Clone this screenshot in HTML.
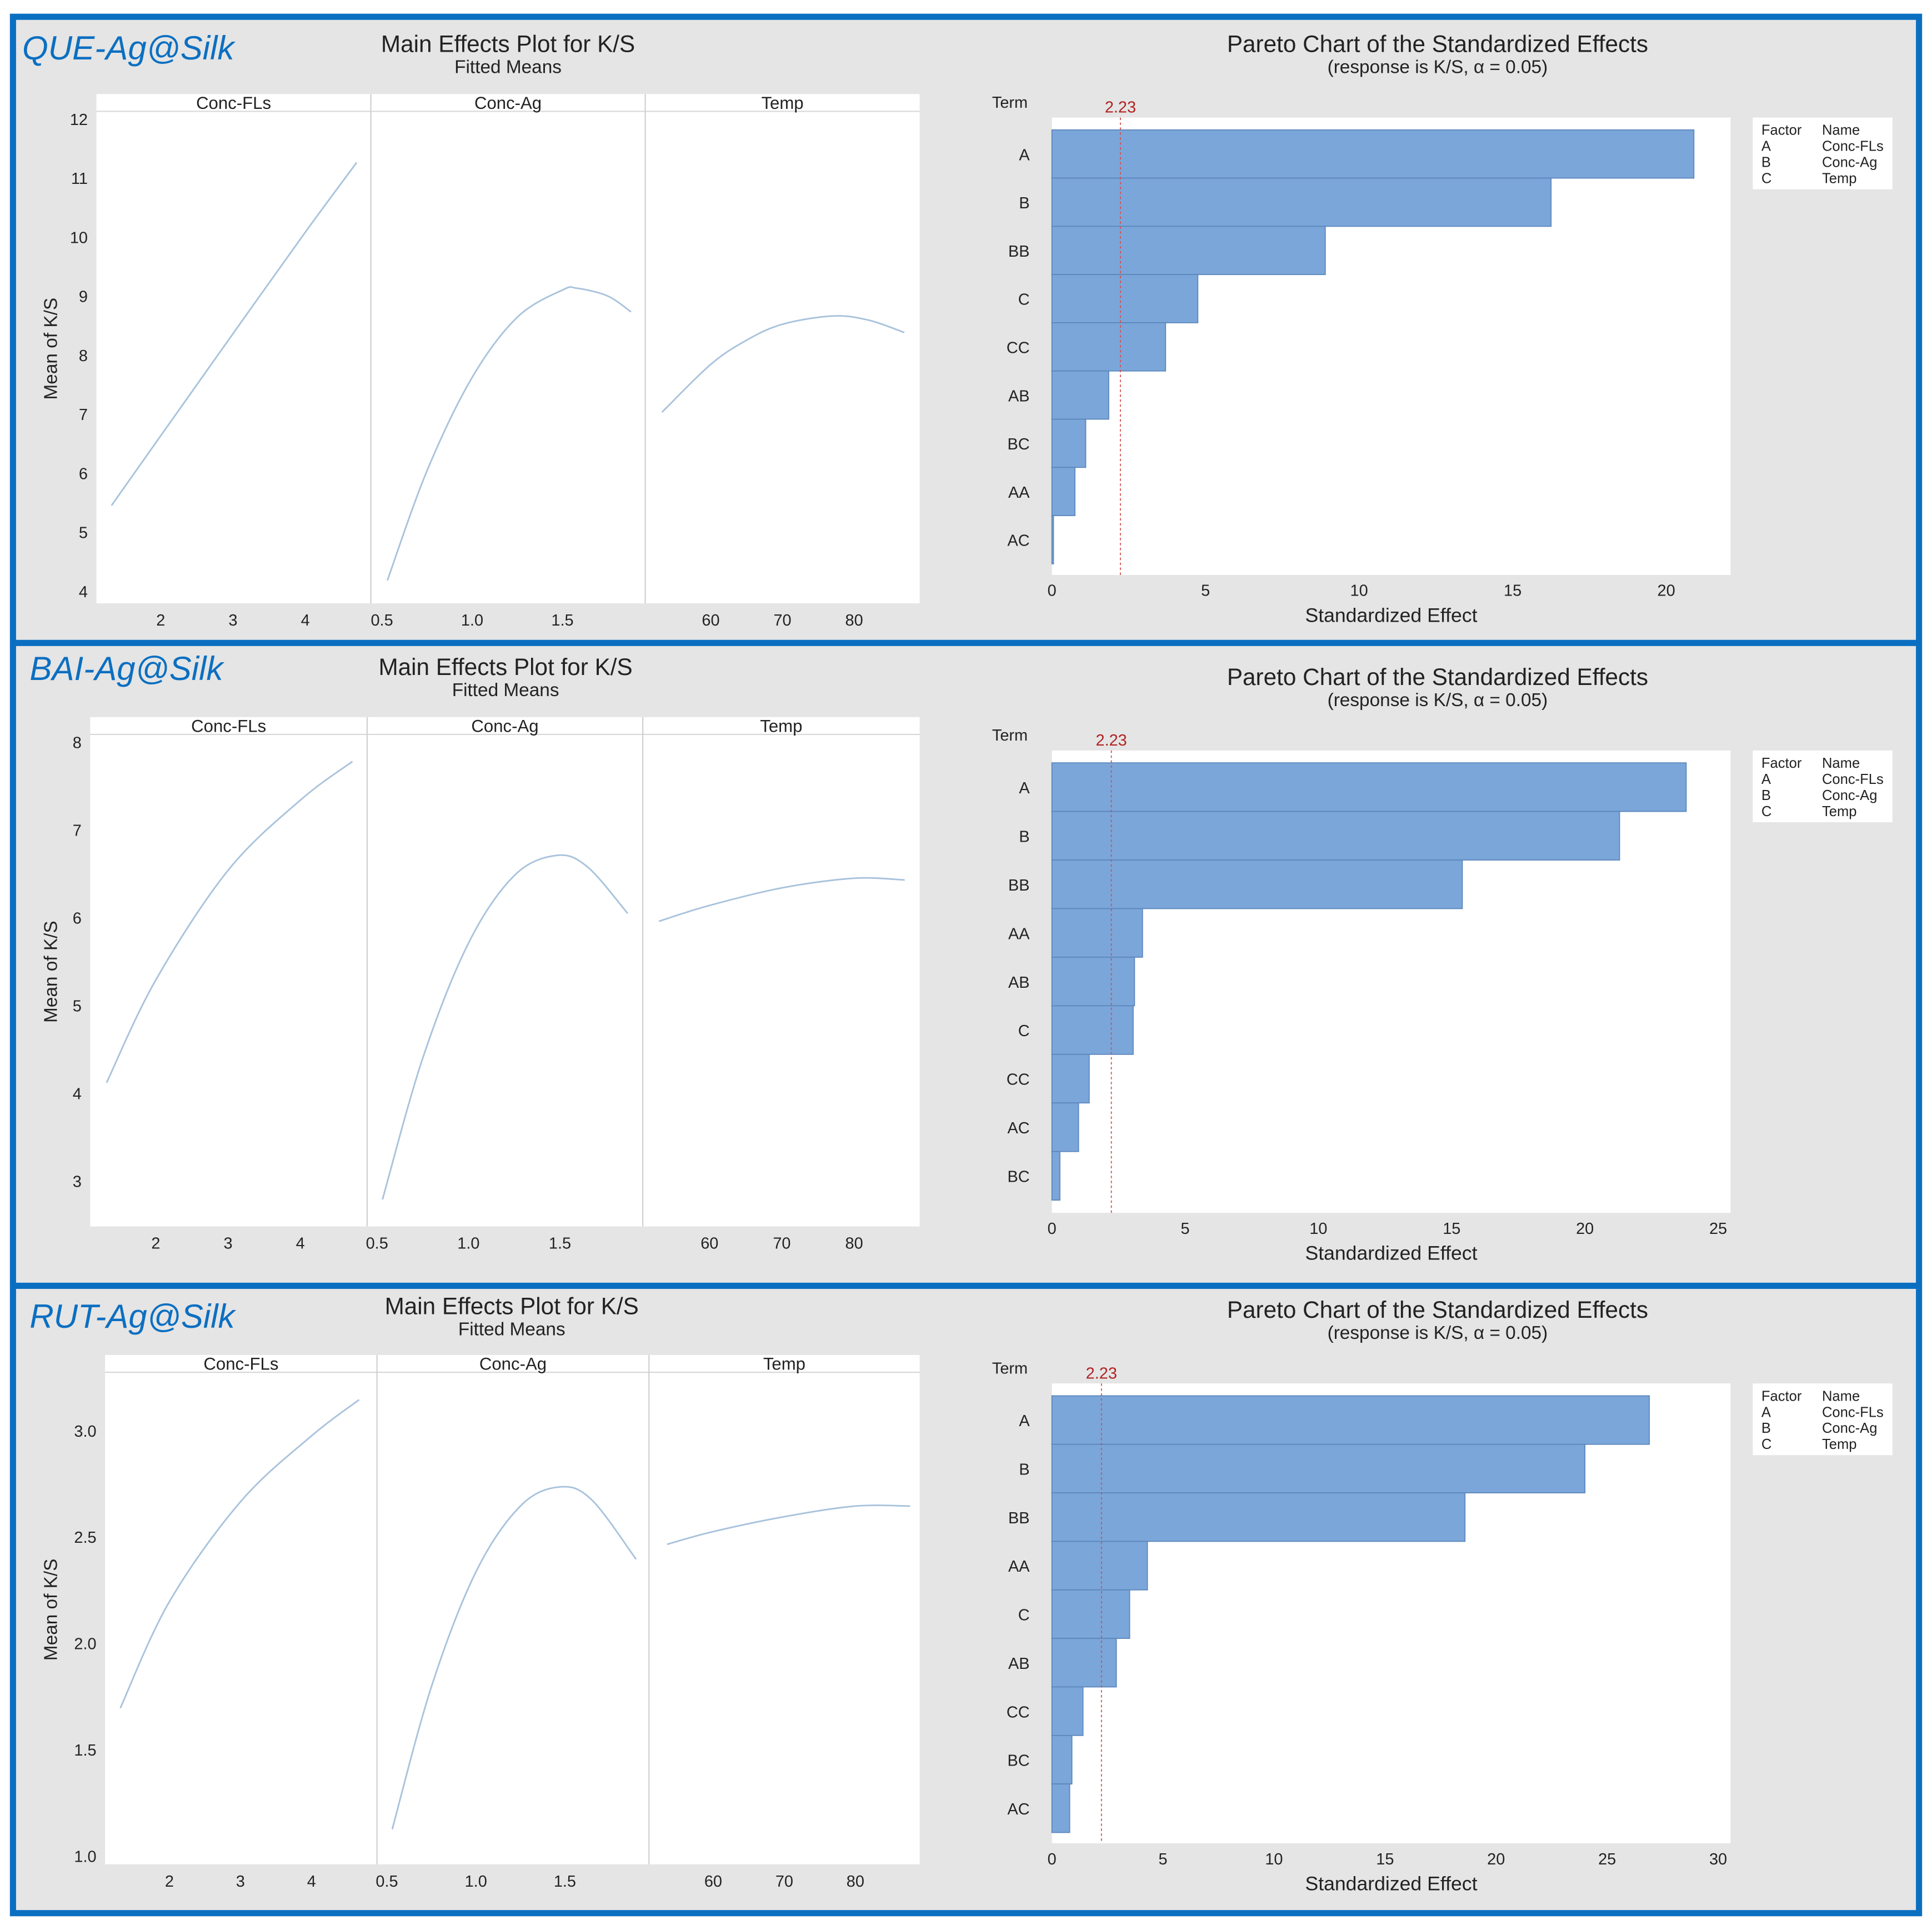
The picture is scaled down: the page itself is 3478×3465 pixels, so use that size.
<!DOCTYPE html>
<html><head><meta charset="utf-8">
<style>
html,body{margin:0;padding:0;background:#fff;}
svg{display:block;}
text{font-family:"Liberation Sans",sans-serif;fill:#222;}
</style></head>
<body>
<svg id="fig" width="3478" height="3465" viewBox="0 0 1563 1557" xmlns="http://www.w3.org/2000/svg">
<rect x="0" y="0" width="1563" height="1557" fill="#fff"/>
<rect x="10" y="13" width="1543" height="1535" fill="#e5e5e5"/>
<g id="root"></g>
<rect x="10.5" y="13.5" width="1542" height="1534" fill="none" stroke="#0b6fc1" stroke-width="5"/>
<line x1="10" y1="520" x2="1553" y2="520" stroke="#0b6fc1" stroke-width="5"/>
<line x1="10" y1="1040" x2="1553" y2="1040" stroke="#0b6fc1" stroke-width="5"/>
</svg>
<script>
// ---------- data ----------
const sampleLabels = ["QUE-Ag@Silk","BAI-Ag@Silk","RUT-Ag@Silk"];
const factorNames = ["Conc-FLs","Conc-Ag","Temp"];
// Panel 1 main effects
const que_fls_x = [1.32,2,3,4,4.71];
const que_fls_y = [5.47,6.65,8.38,10.1,11.28];
const que_ag_x = [0.53,0.75,1.0,1.25,1.5,1.58,1.75,1.88];
const que_ag_y = [4.2,6.06,7.64,8.66,9.12,9.15,9.02,8.75];
const que_t_x = [53.2,60,65,70,77,82,87];
const que_t_y = [7.05,7.86,8.27,8.54,8.68,8.61,8.40];
const que_yticks = [4,5,6,7,8,9,10,11,12];
// Panel 2
const bai_fls_x = [1.32,2,3,4,4.72];
const bai_fls_y = [4.13,5.3,6.55,7.35,7.79];
const bai_ag_x = [0.53,0.75,1.0,1.25,1.48,1.65,1.87];
const bai_ag_y = [2.8,4.41,5.72,6.49,6.72,6.59,6.06];
const bai_t_x = [53,60,70,80,87];
const bai_t_y = [5.97,6.15,6.35,6.46,6.44];
const bai_yticks = [3,4,5,6,7,8];
// Panel 3
const rut_fls_x = [1.31,2,3,4,4.67];
const rut_fls_y = [1.70,2.2,2.67,2.98,3.15];
const rut_ag_x = [0.53,0.75,1.0,1.25,1.47,1.65,1.9];
const rut_ag_y = [1.13,1.80,2.34,2.65,2.74,2.68,2.40];
const rut_t_x = [53.5,60,70,80,87.7];
const rut_t_y = [2.47,2.53,2.6,2.65,2.65];
const rut_yticks = [1.0,1.5,2.0,2.5,3.0];
// x ticks (shared)
const flsTicks = [2,3,4];
const agTicks = [0.5,1.0,1.5];
const tTicks = [60,70,80];
// Pareto data
const que_terms = ["A","B","BB","C","CC","AB","BC","AA","AC"];
const que_effects = [20.9,16.25,8.9,4.75,3.7,1.85,1.1,0.75,0.05];
const que_xticks = [0,5,10,15,20];
const bai_terms = ["A","B","BB","AA","AB","C","CC","AC","BC"];
const bai_effects = [23.8,21.3,15.4,3.4,3.1,3.05,1.4,1.0,0.3];
const bai_xticks = [0,5,10,15,20,25];
const rut_terms = ["A","B","BB","AA","C","AB","CC","BC","AC"];
const rut_effects = [26.9,24.0,18.6,4.3,3.5,2.9,1.4,0.9,0.8];
const rut_xticks = [0,5,10,15,20,25,30];
const critValue = 2.23;

// ---------- layout ----------
const NS="http://www.w3.org/2000/svg";
const root=document.getElementById('root');
function mk(tag,attrs,parent,txt){const e=document.createElementNS(NS,tag);for(const k in attrs)e.setAttribute(k,attrs[k]);if(txt!==undefined)e.textContent=txt;(parent||root).appendChild(e);return e;}
function lin(d0,d1,r0,r1){return v=>r0+(v-d0)*(r1-r0)/(d1-d0);}
function smoothPath(pts){
  let d="M"+pts[0][0].toFixed(2)+","+pts[0][1].toFixed(2);
  for(let i=0;i<pts.length-1;i++){
    const p0=pts[i-1]||pts[i],p1=pts[i],p2=pts[i+1],p3=pts[i+2]||p2;
    const c1=[p1[0]+(p2[0]-p0[0])/6,p1[1]+(p2[1]-p0[1])/6];
    const c2=[p2[0]-(p3[0]-p1[0])/6,p2[1]-(p3[1]-p1[1])/6];
    d+=" C"+c1[0].toFixed(2)+","+c1[1].toFixed(2)+" "+c2[0].toFixed(2)+","+c2[1].toFixed(2)+" "+p2[0].toFixed(2)+","+p2[1].toFixed(2);
  }
  return d;
}

const panels=[
 {label:sampleLabels[0],lx:18,ly:48,tcx:411,ty:42,
  me:{x0:78,x1:744,y0:76,y1:488,div:[300,522],yt:que_yticks,yd:[12,4],yr:[97,479],
      ax:[{t:flsTicks,d:[2,4],r:[130,247],xs:que_fls_x,ys:que_fls_y},
          {t:agTicks,d:[0.5,1.5],r:[309,455],xs:que_ag_x,ys:que_ag_y},
          {t:tTicks,d:[60,80],r:[575,691],xs:que_t_x,ys:que_t_y}],ylab:"Mean of K/S",ylx:46,yfmt:0},
  pa:{x0:851,x1:1400,y0:95,y1:465,ytop:105,row:39,d:20,r:1348,terms:que_terms,eff:que_effects,xt:que_xticks,ptx:1163,pty:42,leg:[1418,95]}},
 {label:sampleLabels[1],lx:24,ly:550,tcx:409,ty:546,
  me:{x0:73,x1:744,y0:580,y1:992,div:[297,520],yt:bai_yticks,yd:[8,3],yr:[601,956],
      ax:[{t:flsTicks,d:[2,4],r:[126,243],xs:bai_fls_x,ys:bai_fls_y},
          {t:agTicks,d:[0.5,1.5],r:[305,453],xs:bai_ag_x,ys:bai_ag_y},
          {t:tTicks,d:[60,80],r:[574,691],xs:bai_t_x,ys:bai_t_y}],ylab:"Mean of K/S",ylx:46,yfmt:0},
  pa:{x0:851,x1:1400,y0:607,y1:981,ytop:617,row:39.3,d:25,r:1390,terms:bai_terms,eff:bai_effects,xt:bai_xticks,ptx:1163,pty:554,leg:[1418,607]}},
 {label:sampleLabels[2],lx:24,ly:1074,tcx:414,ty:1063,
  me:{x0:85,x1:744,y0:1096,y1:1508,div:[305,525],yt:rut_yticks,yd:[3,1],yr:[1158,1502],
      ax:[{t:flsTicks,d:[2,4],r:[137,252],xs:rut_fls_x,ys:rut_fls_y},
          {t:agTicks,d:[0.5,1.5],r:[313,457],xs:rut_ag_x,ys:rut_ag_y},
          {t:tTicks,d:[60,80],r:[577,692],xs:rut_t_x,ys:rut_t_y}],ylab:"Mean of K/S",ylx:46,yfmt:1},
  pa:{x0:851,x1:1400,y0:1119,y1:1491,ytop:1129,row:39.25,d:30,r:1390,terms:rut_terms,eff:rut_effects,xt:rut_xticks,ptx:1163,pty:1066,leg:[1418,1119]}}
];

panels.forEach((P,pi)=>{
  const g=mk('g',{});
  
  
  const lab=mk('text',{x:P.lx,y:P.ly,'font-size':27,'font-style':'italic',style:'fill:#0b6fc1'},g,P.label);
  
  
  const t1=mk('text',{x:P.tcx,y:P.ty,'font-size':19,'text-anchor':'middle'},g,"Main Effects Plot for K/S");
  
  
  const t2=mk('text',{x:P.tcx,y:P.ty+17,'font-size':15,'text-anchor':'middle'},g,"Fitted Means");
  
  
  const M=P.me;
  const yS=lin(M.yd[0],M.yd[1],M.yr[0],M.yr[1]);
  const bg=mk('rect',{x:M.x0,y:M.y0,width:M.x1-M.x0,height:M.y1-M.y0,fill:'#fff'},g);
  
  
  mk('line',{x1:M.x0,y1:M.y0+14,x2:M.x1,y2:M.y0+14,stroke:'#d8d8d8','stroke-width':1},g);
  M.div.forEach(x=>mk('line',{x1:x,y1:M.y0,x2:x,y2:M.y1,stroke:'#d0d0d0','stroke-width':1},g));
  const bounds=[M.x0,M.div[0],M.div[1],M.x1];
  factorNames.forEach((f,i)=>{
    const h=mk('text',{x:(bounds[i]+bounds[i+1])/2,y:M.y0+12,'font-size':14,'text-anchor':'middle'},g,f);
    
    
  });
  M.yt.forEach(v=>{
    const t=mk('text',{x:M.x0-7,y:yS(v)+4,'font-size':13,'text-anchor':'end'},g,M.yfmt?v.toFixed(1):String(v));
    
    
  });
  const yl=mk('text',{x:M.ylx,y:(M.y0+M.y1)/2,'font-size':15,'text-anchor':'middle',transform:`rotate(-90 ${M.ylx} ${(M.y0+M.y1)/2})`},g,M.ylab);
  
  
  M.ax.forEach((A,i)=>{
    const xS=lin(A.d[0],A.d[1],A.r[0],A.r[1]);
    A.t.forEach(v=>{
      const t=mk('text',{x:xS(v),y:M.y1+18,'font-size':13,'text-anchor':'middle'},g,(i===1)?v.toFixed(1):String(v));
      
      
    });
    const pts=A.xs.map((x,k)=>[xS(x),yS(A.ys[k])]);
    const p=mk('path',{d:smoothPath(pts),fill:'none',stroke:'#a9c3dc','stroke-width':1.3},g);
    
    
  });
  const Q=P.pa;
  const xS=lin(0,Q.d,Q.x0,Q.r);
  const pt=mk('text',{x:Q.ptx,y:Q.pty,'font-size':19,'text-anchor':'middle'},g,"Pareto Chart of the Standardized Effects");
  
  
  const ps=mk('text',{x:Q.ptx,y:Q.pty+17,'font-size':15,'text-anchor':'middle'},g,"(response is K/S, \u03b1 = 0.05)");
  
  
  const pb=mk('rect',{x:Q.x0,y:Q.y0,width:Q.x1-Q.x0,height:Q.y1-Q.y0,fill:'#fff'},g);
  
  
  const tm=mk('text',{x:817,y:Q.y0-8,'font-size':13,'text-anchor':'middle'},g,"Term");
  
  
  Q.terms.forEach((term,k)=>{
    const y=Q.ytop+k*Q.row;
    const b=mk('rect',{x:xS(0),y:y,width:Math.max(0.5,xS(Q.eff[k])-xS(0)),height:Q.row,fill:'#7ba6d9',stroke:'#5c87bd','stroke-width':0.8},g);
    
    
    const tl=mk('text',{x:Q.x0-18,y:y+Q.row/2+5,'font-size':13,'text-anchor':'end'},g,term);
    
    
  });
  const rl=mk('line',{x1:xS(critValue),y1:Q.y0,x2:xS(critValue),y2:Q.y1,stroke:'#d45050','stroke-width':0.8,'stroke-dasharray':'2,2'},g);
  
  
  const rt=mk('text',{x:xS(critValue),y:Q.y0-4,'font-size':13,'text-anchor':'middle',style:'fill:#b22222'},g,critValue.toFixed(2));
  
  
  Q.xt.forEach(v=>{
    const t=mk('text',{x:xS(v),y:Q.y1+17,'font-size':13,'text-anchor':'middle'},g,String(v));
    
    
  });
  const xl=mk('text',{x:(Q.x0+Q.x1)/2,y:Q.y1+38,'font-size':16,'text-anchor':'middle'},g,"Standardized Effect");
  
  
  const lg=mk('g',{},g);
  
  
  mk('rect',{x:Q.leg[0],y:Q.leg[1],width:113,height:58,fill:'#fff'},lg);
  const rows=[["Factor","Name"],["A",factorNames[0]],["B",factorNames[1]],["C",factorNames[2]]];
  rows.forEach((r,k)=>{
    mk('text',{x:Q.leg[0]+7,y:Q.leg[1]+14+k*13,'font-size':11.5},lg,r[0]);
    mk('text',{x:Q.leg[0]+56,y:Q.leg[1]+14+k*13,'font-size':11.5},lg,r[1]);
  });
});
</script>
</body></html>
